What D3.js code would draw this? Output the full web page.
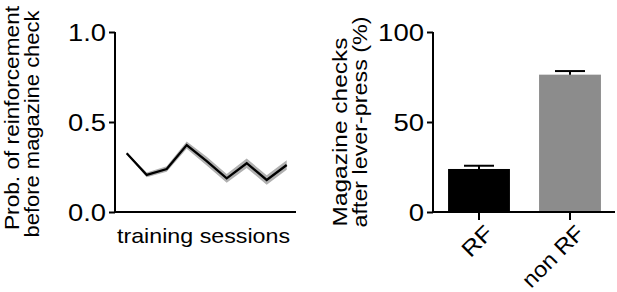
<!DOCTYPE html>
<html><head><meta charset="utf-8">
<script src="https://cdn.jsdelivr.net/npm/d3@7"></script>
<style>
body{margin:0;background:#fff;}
svg text{font-family:"Liberation Sans",Arial,Helvetica,sans-serif;fill:#000;}
</style></head>
<body><svg id="c" width="617" height="292"></svg>
<script>
// ---- data ----
const sessions = [1,2,3,4,5,6,7,8,9];
const probMean = [0.326,0.206,0.239,0.372,0.283,0.187,0.271,0.178,0.261];
const probSem  = [0.005,0.013,0.015,0.020,0.024,0.024,0.026,0.026,0.026];
const leftTicks = [0.0,0.5,1.0];
const groups = ["RF","non RF"];
const checkMean = [23.9,76.3];
const checkSem = [1.8,2.0];
const rightTicks = [0,50,100];

const svg = d3.select("#c");
const FS = 21, TFS = 23;
const stretch = (sel, perChar) => sel.attr("textLength", function(){ return this.textContent.length*perChar; })
  .attr("lengthAdjust","spacingAndGlyphs");

// ---- left chart ----
const yL = d3.scaleLinear().domain([0,1]).range([212,32]);
const xL = d3.scaleLinear().domain([1,9]).range([126.7,286.7]);
const gL = svg.append("g");
const axL = gL.append("g").attr("transform","translate(115,0)")
  .call(d3.axisLeft(yL).tickValues(leftTicks).tickFormat(d3.format(".1f")).tickSize(6).tickPadding(3));
axL.select(".domain").attr("d","M0,32V212");
gL.append("line").attr("x1",115).attr("x2",296).attr("y1",yL(0)).attr("y2",yL(0));
gL.selectAll(".domain, .tick line, line").attr("stroke","#000").attr("stroke-width",2);
axL.selectAll("text").attr("font-size",TFS).attr("font-family","Liberation Sans, Arial, sans-serif").attr("dy","0.35em")
  .attr("textLength",38).attr("lengthAdjust","spacingAndGlyphs");

const area = d3.area().x((d,i)=>xL(sessions[i])).y0((d,i)=>yL(d-probSem[i])).y1((d,i)=>yL(d+probSem[i]));
gL.append("path").datum(probMean).attr("d",area).attr("fill","#b0b0b0");
const line = d3.line().x((d,i)=>xL(sessions[i])).y(d=>yL(d));
gL.append("path").datum(probMean).attr("d",line).attr("fill","none").attr("stroke","#000").attr("stroke-width",2.3).attr("stroke-linejoin","miter");

gL.append("text").attr("x",203.5).attr("y",243).attr("text-anchor","middle").attr("font-size",FS)
  .attr("textLength",173).attr("lengthAdjust","spacingAndGlyphs").text("training sessions");
gL.append("text").attr("transform","translate(19,118) rotate(-90)").attr("text-anchor","middle").attr("font-size",FS)
  .attr("textLength",224).attr("lengthAdjust","spacingAndGlyphs").text("Prob. of reinforcement");
gL.append("text").attr("transform","translate(38.5,124) rotate(-90)").attr("text-anchor","middle").attr("font-size",FS)
  .attr("textLength",227).attr("lengthAdjust","spacingAndGlyphs").text("before magazine check");

// ---- right chart ----
const yR = d3.scaleLinear().domain([0,100]).range([212,32]);
const xR = d3.scaleBand().domain(groups).range([433.5,615.5]).paddingInner(0.32).paddingOuter(0.16);
const gR = svg.append("g");
const axR = gR.append("g").attr("transform","translate(433,0)")
  .call(d3.axisLeft(yR).tickValues(rightTicks).tickSize(6).tickPadding(3));
axR.select(".domain").attr("d","M0,32V212");
axR.selectAll("text").attr("font-size",TFS).attr("font-family","Liberation Sans, Arial, sans-serif").attr("dy","0.35em");
stretch(axR.selectAll("text"), 15.3);

gR.selectAll("rect.bar").data(groups).enter().append("rect").attr("class","bar")
  .attr("x",d=>xR(d)).attr("width",xR.bandwidth())
  .attr("y",(d,i)=>yR(checkMean[i])).attr("height",(d,i)=>yR(0)-yR(checkMean[i]))
  .attr("fill",(d,i)=>i===0?"#000":"#8c8c8c");

// error bars
const eb = gR.selectAll("g.eb").data(groups).enter().append("g").attr("class","eb");
eb.append("line").attr("x1",d=>xR(d)+xR.bandwidth()/2).attr("x2",d=>xR(d)+xR.bandwidth()/2)
  .attr("y1",(d,i)=>yR(checkMean[i])).attr("y2",(d,i)=>yR(checkMean[i]+checkSem[i]));
eb.append("line").attr("x1",d=>xR(d)+xR.bandwidth()/2-15).attr("x2",d=>xR(d)+xR.bandwidth()/2+15)
  .attr("y1",(d,i)=>yR(checkMean[i]+checkSem[i])).attr("y2",(d,i)=>yR(checkMean[i]+checkSem[i]));

const axRX = gR.append("g").attr("transform","translate(0,212)")
  .call(d3.axisBottom(xR).tickSize(8).tickSizeOuter(0).tickPadding(4));
axRX.select(".domain").attr("d","M433,0H615");
axRX.selectAll("text").attr("font-size",22).attr("font-family","Liberation Sans, Arial, sans-serif")
  .attr("text-anchor","end").attr("dy","0").attr("transform","translate(7,14) rotate(-45)")
  .attr("textLength",d=>d==="RF"?34:77).attr("lengthAdjust","spacingAndGlyphs");
gR.selectAll(".domain, .tick line, line").attr("stroke","#000").attr("stroke-width",2);

gR.append("text").attr("transform","translate(347,132) rotate(-90)").attr("text-anchor","middle").attr("font-size",FS)
  .attr("textLength",189).attr("lengthAdjust","spacingAndGlyphs").text("Magazine checks");
gR.append("text").attr("transform","translate(367,122) rotate(-90)").attr("text-anchor","middle").attr("font-size",FS)
  .attr("textLength",211).attr("lengthAdjust","spacingAndGlyphs").text("after lever-press (%)");
</script></body></html>
